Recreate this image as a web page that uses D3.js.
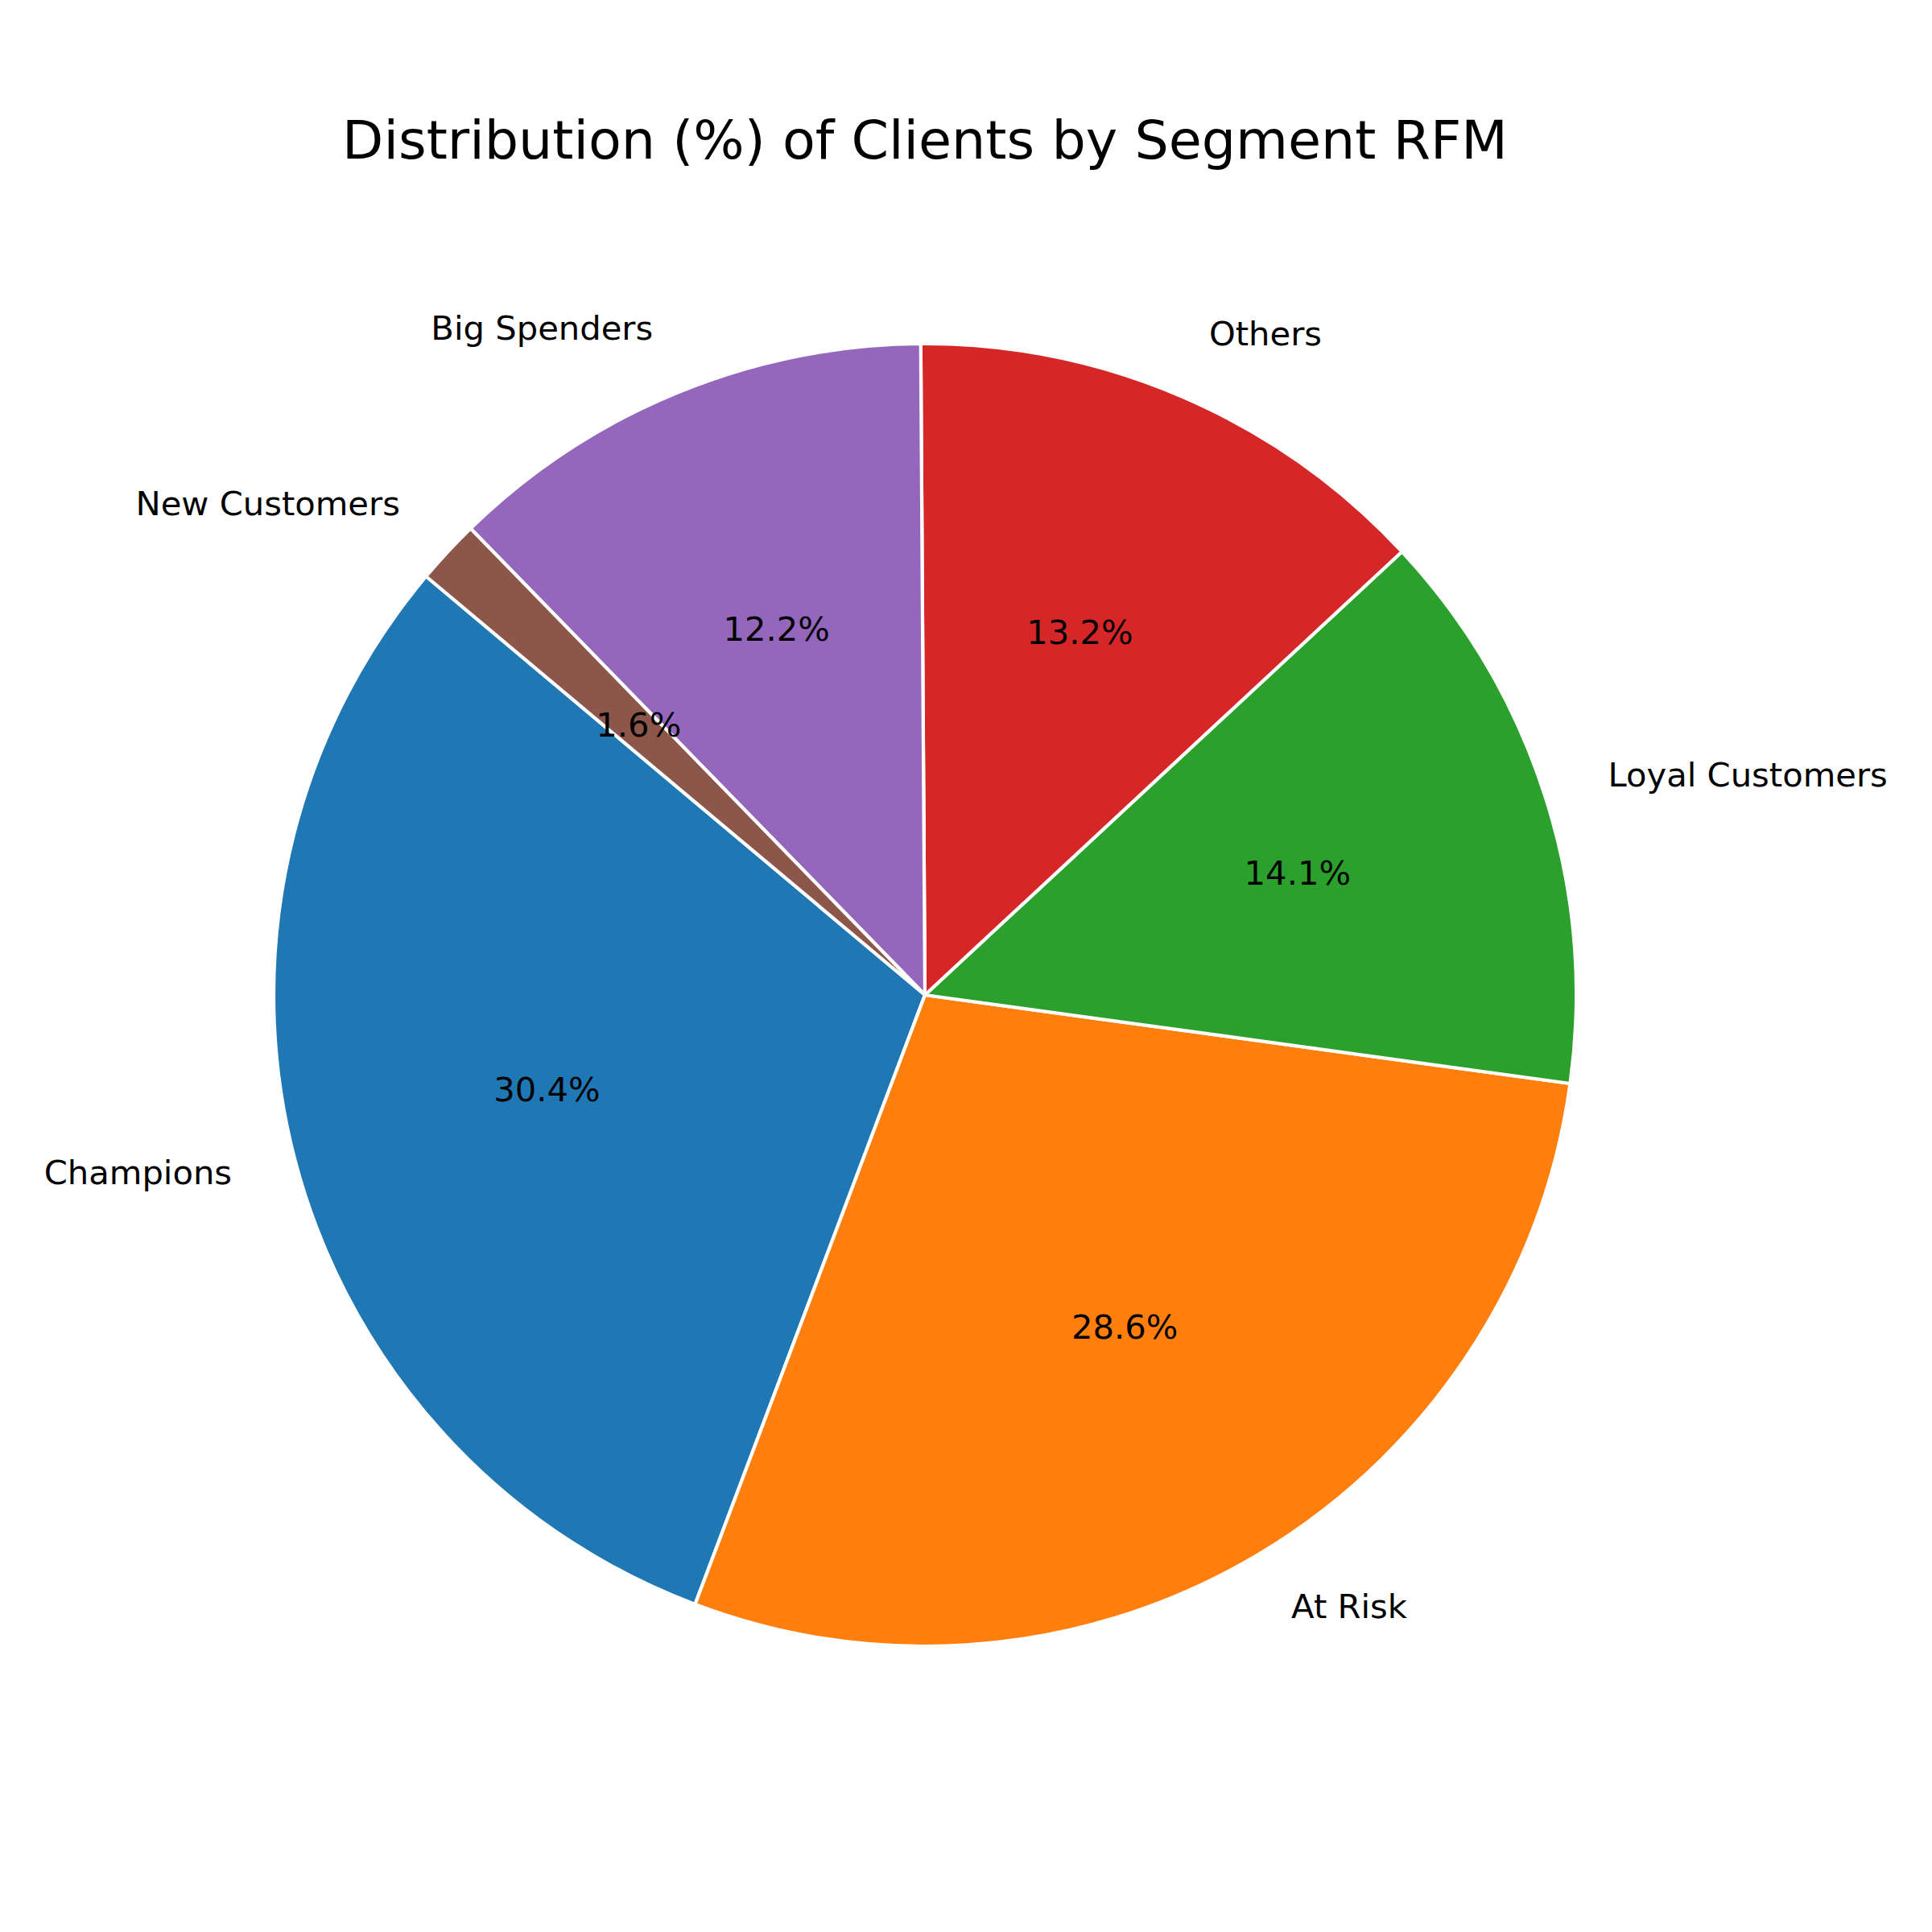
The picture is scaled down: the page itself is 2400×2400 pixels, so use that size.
<!DOCTYPE html>
<meta charset="utf-8">
<head>
    <title>RFM Segments Pie</title>
    <script src="https://cdn.jsdelivr.net/npm/d3@7"></script>
    <style>
        body { margin: 0; background: white; }
        text { font-family: "DejaVu Sans", sans-serif; fill: black; }
    </style>
</head>
<body>
    <div id="chart"></div>
    <script>
        // segment names and share of clients (%)
        var segments = ["Champions", "At Risk", "Loyal Customers", "Others", "Big Spenders", "New Customers"];
        var shares = [30.4, 28.6, 14.1, 13.2, 12.2, 1.6];
        var colors = ["#1f77b4", "#ff7f0e", "#2ca02c", "#d62728", "#9467bd", "#8c564b"];

        var width = 2400, height = 2400;
        var cx = 1149, cy = 1236, radius = 809;

        var svg = d3.select("#chart").append("svg")
            .attr("width", width)
            .attr("height", height);

        svg.append("text")
            .attr("x", cx)
            .attr("y", 197)
            .attr("text-anchor", "middle")
            .style("font-size", "66.7px")
            .text("Distribution (%) of Clients by Segment RFM");

        var g = svg.append("g").attr("transform", "translate(" + cx + "," + cy + ")");

        // matplotlib startangle 140, counterclockwise
        var start = (90 - 140) * Math.PI / 180;
        var pie = d3.pie().sort(null).value(function(d) { return d; })
            .startAngle(start).endAngle(start - 2 * Math.PI);
        var arcs = pie(shares);

        var arc = d3.arc().innerRadius(0).outerRadius(radius);

        g.selectAll("path.slice")
            .data(arcs)
            .enter().append("path")
            .attr("class", "slice")
            .attr("d", arc)
            .attr("fill", function(d, i) { return colors[i]; })
            .attr("stroke", "white")
            .attr("stroke-width", 4.2)
            .attr("stroke-linejoin", "round");

        function mid(d) { return (d.startAngle + d.endAngle) / 2; }

        // outer labels
        g.selectAll("text.label")
            .data(arcs)
            .enter().append("text")
            .attr("class", "label")
            .attr("x", function(d) { return Math.sin(mid(d)) * radius * 1.1; })
            .attr("y", function(d) { return -Math.cos(mid(d)) * radius * 1.1 - 5; })
            .attr("dominant-baseline", "central")
            .attr("text-anchor", function(d) { return Math.sin(mid(d)) > 0 ? "start" : "end"; })
            .style("font-size", "41.7px")
            .text(function(d, i) { return segments[i]; });

        // percentages
        g.selectAll("text.pct")
            .data(arcs)
            .enter().append("text")
            .attr("class", "pct")
            .attr("x", function(d) { return Math.sin(mid(d)) * radius * 0.6; })
            .attr("y", function(d) { return -Math.cos(mid(d)) * radius * 0.6 - 5; })
            .attr("dominant-baseline", "central")
            .attr("text-anchor", "middle")
            .style("font-size", "41.7px")
            .text(function(d) { return d.data.toFixed(1) + "%"; });
    </script>
</body>
</html>
